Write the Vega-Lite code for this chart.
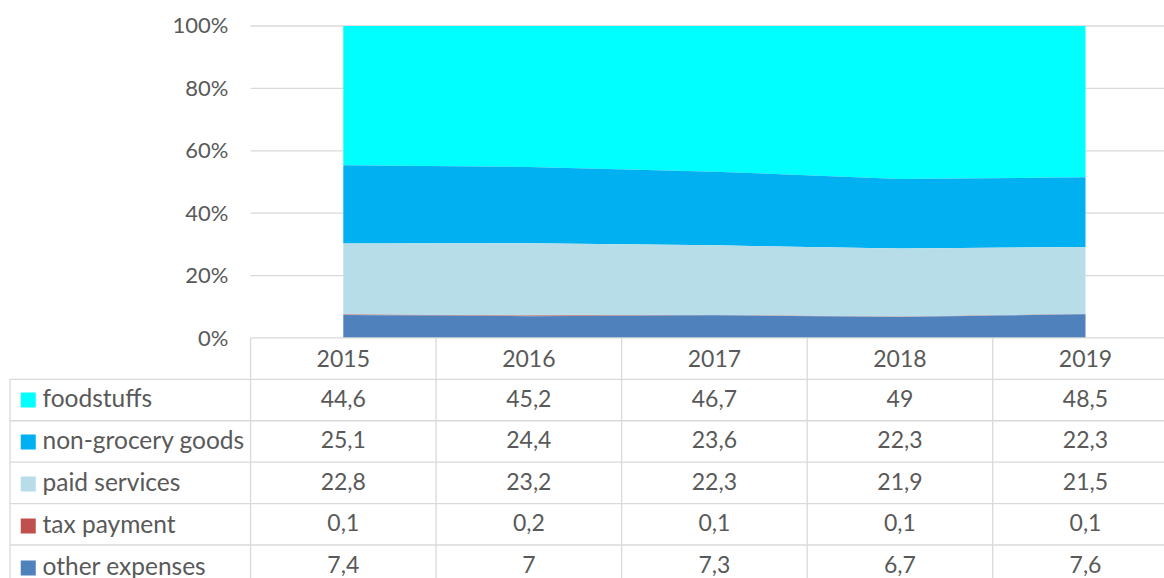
{
  "$schema": "https://vega.github.io/schema/vega-lite/v6.json",
  "width": 1154,
  "height": 578,
  "autosize": {"type": "none"},
  "padding": {"left": 10, "top": 0, "right": 0, "bottom": 0},
  "background": "white",
  "config": {
    "view": {"stroke": null},
    "font": "Lato",
    "locale": {"number": {"decimal": ",", "thousands": " ", "grouping": [3], "currency": ["", ""]}}
  },
  "datasets": {
    "shares": [
      {"year": 2015, "series": "foodstuffs", "rank": 1, "value": 44.6},
      {"year": 2015, "series": "non-grocery goods", "rank": 2, "value": 25.1},
      {"year": 2015, "series": "paid services", "rank": 3, "value": 22.8},
      {"year": 2015, "series": "tax payment", "rank": 4, "value": 0.1},
      {"year": 2015, "series": "other expenses", "rank": 5, "value": 7.4},
      {"year": 2016, "series": "foodstuffs", "rank": 1, "value": 45.2},
      {"year": 2016, "series": "non-grocery goods", "rank": 2, "value": 24.4},
      {"year": 2016, "series": "paid services", "rank": 3, "value": 23.2},
      {"year": 2016, "series": "tax payment", "rank": 4, "value": 0.2},
      {"year": 2016, "series": "other expenses", "rank": 5, "value": 7},
      {"year": 2017, "series": "foodstuffs", "rank": 1, "value": 46.7},
      {"year": 2017, "series": "non-grocery goods", "rank": 2, "value": 23.6},
      {"year": 2017, "series": "paid services", "rank": 3, "value": 22.3},
      {"year": 2017, "series": "tax payment", "rank": 4, "value": 0.1},
      {"year": 2017, "series": "other expenses", "rank": 5, "value": 7.3},
      {"year": 2018, "series": "foodstuffs", "rank": 1, "value": 49},
      {"year": 2018, "series": "non-grocery goods", "rank": 2, "value": 22.3},
      {"year": 2018, "series": "paid services", "rank": 3, "value": 21.9},
      {"year": 2018, "series": "tax payment", "rank": 4, "value": 0.1},
      {"year": 2018, "series": "other expenses", "rank": 5, "value": 6.7},
      {"year": 2019, "series": "foodstuffs", "rank": 1, "value": 48.5},
      {"year": 2019, "series": "non-grocery goods", "rank": 2, "value": 22.3},
      {"year": 2019, "series": "paid services", "rank": 3, "value": 21.5},
      {"year": 2019, "series": "tax payment", "rank": 4, "value": 0.1},
      {"year": 2019, "series": "other expenses", "rank": 5, "value": 7.6}
    ],
    "grid": [{"share": 0.2}, {"share": 0.4}, {"share": 0.6}, {"share": 0.8}, {"share": 1.0}]
  },
  "layer": [
    {
      "layer": [
        {
          "data": {"name": "grid"},
          "mark": {"type": "rule", "color": "#d9d9d9", "strokeWidth": 1.3},
          "encoding": {
            "x": {"datum": 2014.5, "type": "quantitative", "scale": {"domain": [2013.2037, 2019.4231], "nice": false, "zero": false}, "axis": null},
            "x2": {"datum": 2019.5},
            "y": {
              "field": "share", "type": "quantitative",
              "scale": {"domain": [-0.7692, 1.0833], "nice": false, "zero": false},
              "axis": {"values": [0, 0.2, 0.4, 0.6, 0.8, 1], "format": ".0%", "ticks": false, "domain": false, "grid": false, "labelFont": "Lato", "labelFontSize": 22, "labelColor": "#595959", "labelPadding": 23, "offset": -241, "title": null}
            }
          }
        },
        {
          "data": {"name": "shares"},
          "mark": {"type": "area", "opacity": 1},
          "encoding": {
            "x": {"field": "year", "type": "quantitative", "scale": {"domain": [2013.2037, 2019.4231], "nice": false, "zero": false}, "axis": null},
            "y": {
              "field": "value", "type": "quantitative", "stack": "normalize",
              "scale": {"domain": [-0.7692, 1.0833], "nice": false, "zero": false},
              "axis": {"values": [0, 0.2, 0.4, 0.6, 0.8, 1], "format": ".0%", "ticks": false, "domain": false, "grid": false, "labelFont": "Lato", "labelFontSize": 22, "labelColor": "#595959", "labelPadding": 23, "offset": -241, "title": null}
            },
            "color": {
              "field": "series", "type": "nominal",
              "scale": {
                "domain": ["foodstuffs", "non-grocery goods", "paid services", "tax payment", "other expenses"],
                "range": ["#00FFFF", "#00B0F0", "#B7DEE8", "#C0504D", "#4F81BD"]
              },
              "legend": {
                "title": null, "orient": "none", "legendX": 6, "legendY": 379.3,
                "padding": 0, "symbolType": "square", "symbolSize": 225, "symbolStrokeWidth": 0, "symbolOpacity": 1,
                "labelFont": "Lato", "labelFontSize": 24.5, "labelColor": "#595959", "labelOffset": 2, "labelLimit": 400,
                "clipHeight": 41.42, "rowPadding": 0
              }
            },
            "order": {"field": "rank", "sort": "descending"}
          }
        }
      ]
    },
    {
      "data": {"name": "shares"},
      "layer": [
        {
          "transform": [{"aggregate": [{"op": "count", "as": "n"}], "groupby": ["series"]}],
          "mark": {"type": "rule", "color": "#d9d9d9", "strokeWidth": 1.3},
          "encoding": {
            "y": {"field": "series", "type": "nominal", "bandPosition": 0,
                  "scale": {"domain": ["header", "foodstuffs", "non-grocery goods", "paid services", "tax payment", "other expenses"], "range": [337.9, 586.4], "paddingInner": 0, "paddingOuter": 0},
                  "axis": null}
          }
        },
        {
          "transform": [{"aggregate": [{"op": "count", "as": "n"}], "groupby": ["year"]}],
          "mark": {"type": "rule", "color": "#d9d9d9", "strokeWidth": 1.3},
          "encoding": {
            "x": {"field": "year", "type": "quantitative"},
            "xOffset": {"value": -92.77},
            "y": {"datum": "header", "type": "nominal", "bandPosition": 0},
            "y2": {"value": "height"}
          }
        },
        {
          "transform": [{"aggregate": [{"op": "count", "as": "n"}], "groupby": ["year"]}, {"filter": "datum.year == 2015"}],
          "mark": {"type": "rule", "color": "#d9d9d9", "strokeWidth": 1.3},
          "encoding": {
            "x": {"field": "year", "type": "quantitative"},
            "xOffset": {"value": -92.77},
            "x2": {"value": "width"},
            "y": {"datum": "header", "type": "nominal", "bandPosition": 0}
          }
        },
        {
          "transform": [{"aggregate": [{"op": "count", "as": "n"}], "groupby": ["series"]}, {"filter": "datum.series == 'foodstuffs'"}],
          "mark": {"type": "rule", "color": "#d9d9d9", "strokeWidth": 1.3},
          "encoding": {
            "x": {"value": 0},
            "y": {"field": "series", "type": "nominal", "bandPosition": 0},
            "y2": {"value": "height"}
          }
        },
        {
          "transform": [{"aggregate": [{"op": "count", "as": "n"}], "groupby": ["year"]}],
          "mark": {"type": "text", "align": "center", "baseline": "middle", "font": "Lato", "fontSize": 23, "color": "#595959", "dy": 1.5},
          "encoding": {
            "x": {"field": "year", "type": "quantitative"},
            "y": {"datum": "header", "type": "nominal"},
            "text": {"field": "year", "type": "nominal"}
          }
        },
        {
          "mark": {"type": "text", "align": "center", "baseline": "middle", "font": "Lato", "fontSize": 23, "color": "#595959"},
          "encoding": {
            "x": {"field": "year", "type": "quantitative"},
            "y": {"field": "series", "type": "nominal"},
            "text": {"field": "value", "type": "quantitative", "format": ".1~f"}
          }
        }
      ]
    }
  ],
  "resolve": {"scale": {"y": "independent"}}
}
